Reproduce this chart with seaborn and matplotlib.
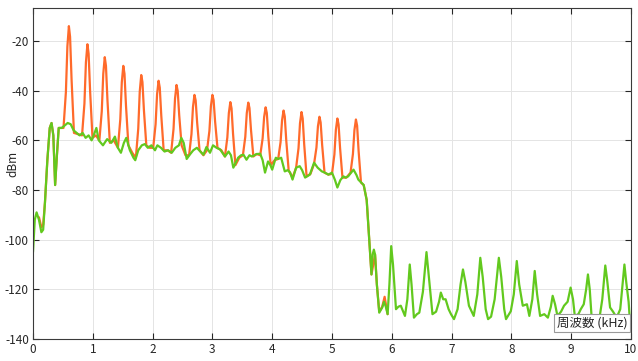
import pandas as pd
import matplotlib.pyplot as plt
import seaborn as sns

# 周波数 (kHz) と レベル (dBm) を画像から読み取り
# 緑：帯域制限後のスペクトル（3つに分割）
green_khz_low = [0.00, 0.03, 0.06, 0.10, 0.14, 0.17, 0.20, 0.24, 0.28, 0.31,
                 0.34, 0.37, 0.40, 0.43, 0.48, 0.53, 0.58, 0.63, 0.68, 0.73,
                 0.78, 0.83, 0.88, 0.93, 0.98, 1.03, 1.06, 1.10, 1.17, 1.24,
                 1.31, 1.37, 1.42, 1.47, 1.52, 1.56, 1.62, 1.68, 1.71, 1.76,
                 1.82, 1.87, 1.92, 1.98, 2.04, 2.08, 2.14, 2.20, 2.26, 2.32,
                 2.38, 2.44, 2.48, 2.52, 2.57]
green_dbm_low = [-105, -92, -89, -92, -97, -96, -85, -68, -55, -53,
                 -58, -78, -66, -55, -55, -54, -53, -53.5, -56, -57,
                 -58, -57, -59, -58, -60, -57, -55, -60, -62, -59.5,
                 -61, -58.5, -63, -65, -61, -59, -64, -67, -68, -64,
                 -62, -61.5, -63, -62, -64, -62, -63, -64.5, -64, -65,
                 -63, -62, -59, -61, -67.5]

green_khz_mid = [2.62, 2.68, 2.74, 2.80, 2.85, 2.90, 2.96, 3.01, 3.07, 3.13,
                 3.21, 3.27, 3.31, 3.35, 3.39, 3.43, 3.48, 3.52, 3.57, 3.62,
                 3.66, 3.70, 3.74, 3.80, 3.84, 3.88, 3.93, 3.97, 4.00, 4.06,
                 4.10, 4.15, 4.21, 4.26, 4.30, 4.34, 4.40, 4.46, 4.50, 4.55,
                 4.63, 4.70, 4.76, 4.83, 4.88, 4.94, 5.00, 5.05, 5.09, 5.14,
                 5.19, 5.23, 5.27, 5.32, 5.36, 5.41, 5.44, 5.49, 5.53]
green_dbm_mid = [-65.8, -64, -63, -64.5, -65.8, -62.7, -65, -62, -63, -63.7,
                 -66.5, -64.5, -66, -71, -69, -67, -66, -65.8, -67.8, -66,
                 -66.5, -66, -65.5, -65.4, -68, -73, -68.5, -70, -71.8, -67,
                 -67.5, -67, -72.5, -72, -73, -75.8, -71, -70.4, -72, -75,
                 -73.8, -69, -71, -72.5, -73, -73.8, -73, -76, -79, -76,
                 -74.5, -75, -74.5, -73, -71.8, -74, -75.8, -77, -78]

green_khz_high = [5.58, 5.61, 5.63, 5.66, 5.68, 5.70, 5.72, 5.75, 5.79, 5.84,
                  5.87, 5.90, 5.93, 5.96, 5.99, 6.02, 6.07, 6.11, 6.15, 6.22,
                  6.26, 6.30, 6.33, 6.37, 6.42, 6.46, 6.52, 6.58, 6.62, 6.68,
                  6.74, 6.79, 6.82, 6.86, 6.90, 6.95, 6.99, 7.04, 7.10, 7.15,
                  7.19, 7.23, 7.29, 7.37, 7.43, 7.48, 7.52, 7.57, 7.61, 7.66,
                  7.72, 7.79, 7.83, 7.88, 7.91, 7.99, 8.04, 8.09, 8.13, 8.19,
                  8.26, 8.30, 8.35, 8.39, 8.43, 8.48, 8.55, 8.61, 8.66, 8.69,
                  8.73, 8.77, 8.83, 8.88, 8.94, 8.99, 9.03, 9.06, 9.12, 9.16,
                  9.21, 9.25, 9.28, 9.31, 9.34, 9.40, 9.47, 9.52, 9.57, 9.60,
                  9.65, 9.70, 9.76, 9.82, 9.89, 9.92, 9.96, 9.98, 10.00]
green_dbm_high = [-84, -95, -103, -114, -106, -104, -106, -118, -129.4, -127.3,
                  -125, -127, -130, -118, -102.6, -110, -128, -127, -126.6, -130.7,
                  -124, -110, -118, -131.4, -130, -129.4, -121, -105, -115, -130,
                  -129, -125, -121.3, -124, -124, -128, -130, -132, -128, -118,
                  -112, -117, -126.6, -130.7, -122, -107.3, -115, -128, -132, -131,
                  -124, -107.3, -115, -128, -132, -128.8, -122, -108.6, -118, -126.6,
                  -126, -130.7, -124, -112.6, -122, -130.7, -130, -131.4, -127, -122.6,
                  -126, -130.7, -129, -126.6, -125, -119.3, -124, -130.7, -130, -128,
                  -126, -120, -114, -120, -130.7, -131, -132, -124, -110.4, -116,
                  -127.3, -129, -131.4, -128, -110, -117, -125, -132, -136]

# オレンジ：帯域制限前（高調波ピークあり）
orange_khz = [0.10, 0.14, 0.17, 0.20, 0.24, 0.28, 0.31, 0.34, 0.37, 0.40, 0.43, 0.48,
              0.51, 0.55, 0.575, 0.60, 0.62, 0.645, 0.685, 0.75,
              0.82, 0.86, 0.885, 0.91, 0.93, 0.955, 0.995, 1.05,
              1.11, 1.15, 1.175, 1.20, 1.22, 1.245, 1.285, 1.35,
              1.42, 1.46, 1.485, 1.51, 1.53, 1.555, 1.595, 1.66,
              1.72, 1.76, 1.785, 1.81, 1.83, 1.855, 1.895, 1.95,
              2.01, 2.05, 2.075, 2.10, 2.12, 2.145, 2.185, 2.25,
              2.31, 2.35, 2.375, 2.40, 2.42, 2.445, 2.485, 2.55,
              2.61, 2.65, 2.675, 2.70, 2.72, 2.745, 2.785, 2.85,
              2.91, 2.95, 2.975, 3.00, 3.02, 3.045, 3.085, 3.15,
              3.21, 3.25, 3.275, 3.30, 3.32, 3.345, 3.385, 3.45,
              3.51, 3.55, 3.575, 3.60, 3.62, 3.645, 3.685, 3.74,
              3.80, 3.84, 3.865, 3.89, 3.91, 3.935, 3.975, 4.04,
              4.10, 4.14, 4.165, 4.19, 4.21, 4.235, 4.275, 4.34,
              4.40, 4.44, 4.465, 4.49, 4.51, 4.535, 4.575, 4.64,
              4.70, 4.74, 4.765, 4.79, 4.81, 4.835, 4.875, 4.94,
              5.00, 5.04, 5.065, 5.09, 5.11, 5.135, 5.175, 5.24,
              5.31, 5.35, 5.375, 5.40, 5.42, 5.445, 5.485,
              5.53, 5.58, 5.61, 5.66, 5.72, 5.75, 5.79, 5.84, 5.88, 5.93]
orange_dbm = [-91, -95, -94, -85, -68, -55, -53, -58, -78, -66, -55, -55,
              -55, -40.6, -22.2, -14, -18.3, -35.5, -57, -57.5,
              -58, -45.2, -28.6, -21.3, -25.1, -40.2, -59, -58,
              -60, -48.3, -33.2, -26.5, -30, -43.8, -61, -60,
              -63, -51.5, -36.6, -30, -33.2, -46, -62, -65,
              -67, -55.3, -40.4, -33.7, -36.5, -47.9, -62, -63,
              -63, -53.5, -41.4, -36, -38.8, -50, -64, -64,
              -65, -55.4, -43.2, -37.7, -40.1, -49.9, -62, -66,
              -66, -57.5, -46.6, -41.7, -43.9, -52.9, -64, -66,
              -64, -56.2, -46.2, -41.7, -43.8, -52.4, -63, -64,
              -66.5, -58.8, -49, -44.6, -47.1, -57.3, -70, -67,
              -66, -58.6, -49, -44.8, -47, -55.7, -66.5, -65.5,
              -66, -59.2, -50.6, -46.7, -49, -58.4, -70, -68,
              -67.5, -60.7, -51.9, -48, -50.4, -60, -72, -75,
              -71, -63.2, -53.1, -48.6, -51.2, -61.6, -74.5, -73.5,
              -69.5, -62.9, -54.3, -50.5, -52.8, -61.8, -73, -73.8,
              -73.5, -65.7, -55.7, -51.2, -53.6, -63.1, -75, -75,
              -73, -65.5, -55.9, -51.6, -54.1, -64.3, -77,
              -78, -84, -95, -114, -106, -118, -129, -127, -123, -130]

x_ticks = [0, 1, 2, 3, 4, 5, 6, 7, 8, 9, 10]
y_ticks = [-140, -120, -100, -80, -60, -40, -20]

df_green = pd.DataFrame({
    "khz": green_khz_low + green_khz_mid + green_khz_high,
    "dbm": green_dbm_low + green_dbm_mid + green_dbm_high,
})
df_orange = pd.DataFrame({"khz": orange_khz, "dbm": orange_dbm})

sns.set_style("ticks")
plt.rcParams["font.family"] = ["Noto Sans CJK JP", "DejaVu Sans"]
plt.rcParams["axes.unicode_minus"] = False

fig = plt.figure(figsize=(6.38, 3.61), dpi=100)
ax = fig.add_axes([33 / 638, 22 / 361, 598 / 638, 331 / 361])

sns.lineplot(data=df_orange, x="khz", y="dbm", color="#FF6A2B", linewidth=1.6,
             estimator=None, ax=ax)
sns.lineplot(data=df_green, x="khz", y="dbm", color="#62C91E", linewidth=1.6,
             estimator=None, ax=ax)

ax.set_xlim(0, 10)
ax.set_ylim(-140, -6.7)
ax.set_xticks(x_ticks)
ax.set_yticks(y_ticks)
ax.grid(True, color="#E4E4E4", linewidth=0.7)
ax.set_axisbelow(True)
for s in ax.spines.values():
    s.set_color("#3A3A3A")
    s.set_linewidth(0.8)
ax.tick_params(direction="in", top=True, right=True, length=4, width=0.8,
               labelsize=8.5, colors="#262626", pad=3)
ax.set_xlabel("")
ax.set_ylabel("dBm", fontsize=8.5, color="#262626")
ax.yaxis.set_label_coords(-0.022, 0.53)

ax.text(0.994, 0.03, "周波数 (kHz)", transform=ax.transAxes, ha="right", va="bottom",
        fontsize=9, color="#262626",
        bbox=dict(boxstyle="square,pad=0.2", facecolor="white", edgecolor="#9A9A9A",
                  linewidth=0.8))

plt.savefig("out.png", dpi=100)
plt.close()
